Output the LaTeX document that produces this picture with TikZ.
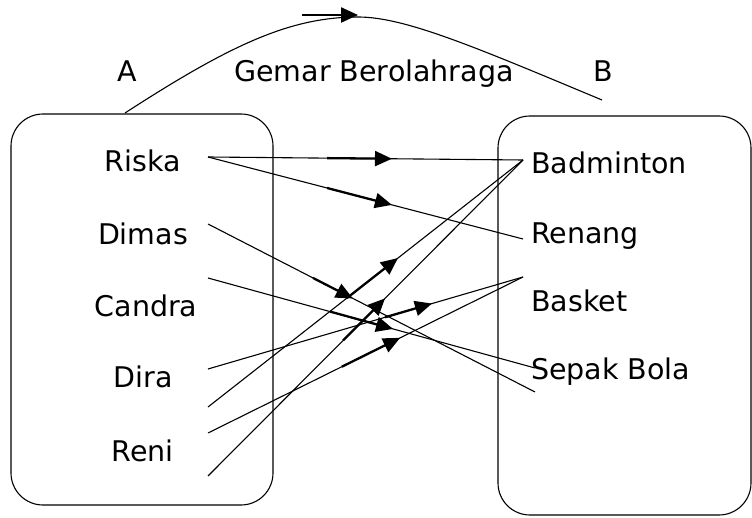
\documentclass[tikz,border=0pt]{standalone}
\usepackage{fontspec}
\setmainfont{DejaVu Sans}
\usetikzlibrary{arrows.meta,calc}
\begin{document}
\begin{tikzpicture}[x=1pt,y=-1pt,
  lbl/.style={inner sep=0pt,anchor=base,font=\fontsize{28.5}{34}\selectfont},
  lblw/.style={lbl,anchor=base west},
  link/.style={line width=1.1pt},
  dirarrow/.style={line width=2.3pt,-{Triangle[length=17pt,width=15pt]}},
  setbox/.style={draw,line width=1.1pt,rounded corners=32pt,inner sep=0pt}]
\useasboundingbox (0,0) rectangle (752,518);

% the two sets
\node[setbox,minimum width=262pt,minimum height=391pt] (boxA) at (142,309.5) {};
\node[setbox,minimum width=253pt,minimum height=399pt] (boxB) at (624.5,315.5) {};

% headings
\node[lbl] (hA) at (127,81.7) {A};
\node[lbl] (hRel) at (374,81.7) {Gemar Berolahraga};
\node[lbl] (hB) at (603,81.7) {B};

% members of A
\node[lbl] (riska)  at (143,171.7) {Riska};
\node[lbl] (dimas)  at (143,245)   {Dimas};
\node[lbl] (candra) at (146,316.7) {Candra};
\node[lbl] (dira)   at (143,388)   {Dira};
\node[lbl] (reni)   at (142.5,461.7) {Reni};

% members of B
\node[lblw] (badminton) at (531,173.3) {Badminton};
\node[lblw] (renang)    at (531,243.3) {Renang};
\node[lblw] (basket)    at (531,311.7) {Basket};
\node[lblw] (sepak)     at (531,380)   {Sepak Bola};

% line ends
\coordinate (pRiska)  at (208,157);
\coordinate (pDimas)  at (208,224);
\coordinate (pCandra) at (208,278);
\coordinate (pDira)   at (208,369);
\coordinate (pDiraB)  at (208,407);
\coordinate (pReni)   at (208,433);
\coordinate (pReniB)  at (208,476);
\coordinate (qBadminton) at (523,160);
\coordinate (qRenang)    at (523,239);
\coordinate (qBasket)    at (523,277);
\coordinate (qSepak)     at (535,368);
\coordinate (qSepakB)    at (535,392);

% relation curve from A to B
\coordinate (cStart) at (125,113);
\coordinate (cPeak)  at (358,17);
\coordinate (cEnd)   at (602,100);
\draw[link] (cStart) .. controls (230,45) and (290,17) .. (cPeak)
  .. controls (405,17) and (475,47) .. (cEnd);
\coordinate (tA) at (302,15);
\coordinate (tB) at (358,15);
\draw[dirarrow] (tA) -- (tB);

% pairs of the relation
\draw[link] (pRiska) -- (qBadminton);
\draw[dirarrow] ($(pRiska)!0.378!(qBadminton)$) -- ($(pRiska)!0.584!(qBadminton)$);
\draw[link] (pRiska) -- (qRenang);
\draw[dirarrow] ($(pRiska)!0.378!(qRenang)$) -- ($(pRiska)!0.584!(qRenang)$);
\draw[link] (pDimas) -- (qSepakB);
\draw[dirarrow] ($(pDimas)!0.321!(qSepakB)$) -- ($(pDimas)!0.443!(qSepakB)$);
\draw[link] (pCandra) -- (qSepak);
\draw[dirarrow] ($(pCandra)!0.373!(qSepak)$) -- ($(pCandra)!0.566!(qSepak)$);
\draw[link] (pDira) -- (qBasket);
\draw[dirarrow] ($(pDira)!0.562!(qBasket)$) -- ($(pDira)!0.711!(qBasket)$);
\draw[link] (pDiraB) -- (qBadminton);
\draw[dirarrow] ($(pDiraB)!0.441!(qBadminton)$) -- ($(pDiraB)!0.603!(qBadminton)$);
\draw[link] (pReni) -- (qBasket);
\draw[dirarrow] ($(pReni)!0.425!(qBasket)$) -- ($(pReni)!0.610!(qBasket)$);
\draw[link] (pReniB) -- (qBadminton);
\draw[dirarrow] ($(pReniB)!0.429!(qBadminton)$) -- ($(pReniB)!0.562!(qBadminton)$);
\end{tikzpicture}
\end{document}
